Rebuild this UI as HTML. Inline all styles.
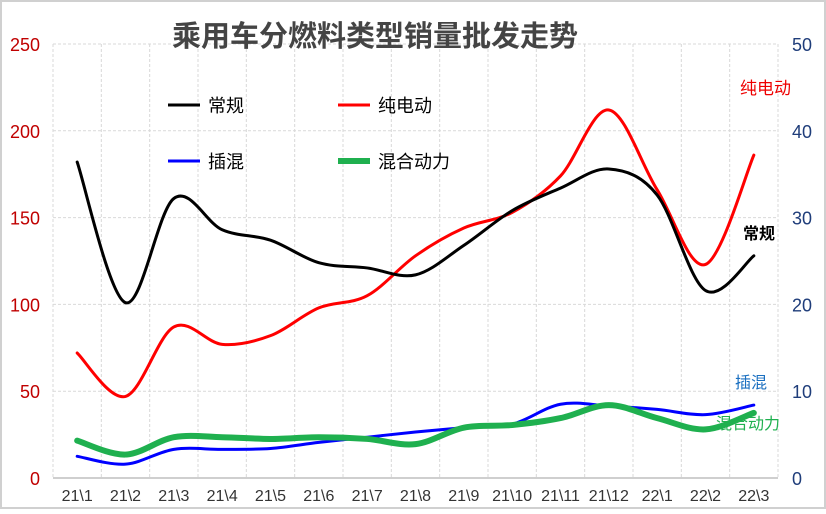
<!DOCTYPE html>
<html><head><meta charset="utf-8"><style>
body{margin:0;background:#fff;}
svg{font-family:"Liberation Sans","Noto Sans CJK SC",sans-serif;}
</style></head><body>
<svg width="826" height="509">
<rect x="1" y="1" width="824" height="507" fill="#fff" stroke="#d0d0d0" stroke-width="2"/>
<g id="grid"></g>
<g id="axes"></g>
<g id="series"></g>
<text x="375" y="46" text-anchor="middle" font-size="29" font-weight="bold" fill="#444">乘用车分燃料类型销量批发走势</text>
<g font-size="18">
<g><line x1="168" y1="105" x2="200" y2="105" stroke="#000" stroke-width="3"/><text x="208" y="112">常规</text></g>
<g><line x1="338" y1="105" x2="370" y2="105" stroke="#f00" stroke-width="3"/><text x="378" y="112">纯电动</text></g>
<g><line x1="168" y1="161" x2="200" y2="161" stroke="#00f" stroke-width="3"/><text x="208" y="168">插混</text></g>
<g><line x1="338" y1="161" x2="370" y2="161" stroke="#1fb04f" stroke-width="6"/><text x="378" y="168">混合动力</text></g>
</g>
<text x="740" y="94" font-size="17" fill="#e00">纯电动</text>
<text x="743" y="239" font-size="16" font-weight="bold" fill="#000">常规</text>
<text x="735" y="388" font-size="16" fill="#1a6fc0">插混</text>
<text x="716" y="429" font-size="16" fill="#1fb04f">混合动力</text>
</svg>
<script>
const categories=["21\\1","21\\2","21\\3","21\\4","21\\5","21\\6","21\\7","21\\8","21\\9","21\\10","21\\11","21\\12","22\\1","22\\2","22\\3"];
const changgui=[182,101,161,143,137,124,121,117,134,154,167,178,163,108,128];
const chundiandong=[72,47,87,77,82,98,105,128,144,153,174,212,166,123,186];
const chahun=[2.5,1.6,3.3,3.3,3.4,4.1,4.7,5.3,5.8,6.2,8.5,8.3,7.9,7.3,8.4];
const hunhe=[4.3,2.7,4.7,4.7,4.5,4.7,4.5,3.9,5.8,6.1,6.9,8.4,6.9,5.6,7.5];
const leftTicks=[0,50,100,150,200,250];
const rightTicks=[0,10,20,30,40,50];
const X0=53,X1=778,Y0=478,Y1=44;
const bw=(X1-X0)/categories.length;
const x=i=>X0+bw*(i+0.5);
const yL=v=>Y0-(v/250)*(Y0-Y1);
const yR=v=>Y0-(v/50)*(Y0-Y1);
const NS="http://www.w3.org/2000/svg";
function mk(tag,attrs,parent){const e=document.createElementNS(NS,tag);for(const k in attrs)e.setAttribute(k,attrs[k]);parent.appendChild(e);return e;}
const grid=document.getElementById('grid'),axes=document.getElementById('axes'),ser=document.getElementById('series');
leftTicks.forEach((t,i)=>{
 if(t>0){const l=mk('line',{x1:X0,x2:X1,y1:yL(t),y2:yL(t),stroke:'#d9d9d9','stroke-dasharray':'3,2'},grid);
 
 }
 const tx=mk('text',{x:40,y:yL(t)+7,'text-anchor':'end','font-size':18,fill:'#c00000'},axes);tx.textContent=t;
 
 
});
rightTicks.forEach(t=>{
 const tx=mk('text',{x:792,y:yR(t)+7,'font-size':18,fill:'#1f3d7a'},axes);tx.textContent=t;
 
 
});
for(let i=0;i<=categories.length;i++){
 const gx=X0+bw*i;
 const l=mk('line',{x1:gx,x2:gx,y1:Y1,y2:Y0,stroke:'#d9d9d9','stroke-dasharray':'3,2'},grid);
 
 
}
const ax=mk('line',{x1:X0,x2:X1,y1:Y0,y2:Y0,stroke:'#bfbfbf','stroke-width':1.5},axes);


categories.forEach((c,i)=>{
 const tx=mk('text',{x:x(i),y:501,'text-anchor':'middle','font-size':16,fill:'#333'},axes);tx.textContent=c;
 
 
});
function smooth(pts){let d=`M${pts[0][0]},${pts[0][1]}`;
 for(let i=0;i<pts.length-1;i++){const p0=pts[i-1]||pts[i],p1=pts[i],p2=pts[i+1],p3=pts[i+2]||p2;
 const c1=[p1[0]+(p2[0]-p0[0])/6,p1[1]+(p2[1]-p0[1])/6],c2=[p2[0]-(p3[0]-p1[0])/6,p2[1]-(p3[1]-p1[1])/6];
 d+=` C${c1[0]},${c1[1]} ${c2[0]},${c2[1]} ${p2[0]},${p2[1]}`;}return d;}
function draw(arr,yf,color,w,name){
 const p=mk('path',{d:smooth(arr.map((v,i)=>[x(i),yf(v)])),fill:'none',stroke:color,'stroke-width':w,'stroke-linecap':'round'},ser);
 
 
}
draw(chahun,yR,'#0000ff',3,'line-chahun');
draw(hunhe,yR,'#1fb04f',6,'line-hunhe');
draw(chundiandong,yL,'#ff0000',3,'line-chundiandong');
draw(changgui,yL,'#000',3,'line-changgui');
</script>
</body></html>
